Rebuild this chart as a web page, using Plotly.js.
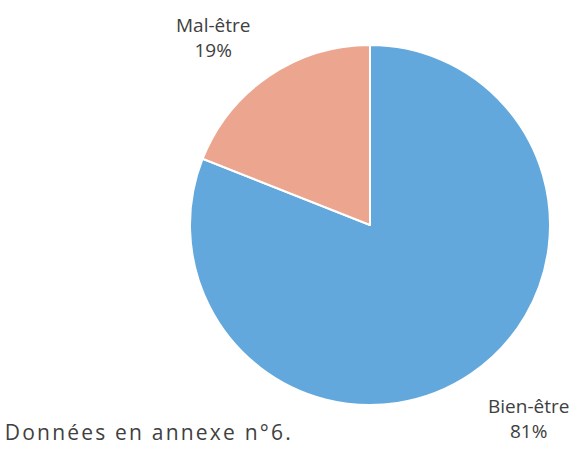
<!DOCTYPE html>
<html>
<head>
<meta charset="utf-8">
<script src="https://cdn.plot.ly/plotly-3.0.1.min.js"></script>
<style>
  body { margin: 0; background: #fff; }
  #pieChart { width: 575px; height: 450px; }
  .annotation[data-index="2"] text { letter-spacing: 2.2px; }
</style>
</head>
<body>
<div id="pieChart"></div>
<script>
var labels = ["Bien-être", "Mal-être"];
var values = [81, 19];
var colors = ["#62a8dc", "#eca68f"];
var note = "Données en annexe n°6.";

var trace1 = {
  type: "pie",
  labels: labels,
  values: values,
  sort: false,
  direction: "clockwise",
  rotation: 0,
  textinfo: "none",
  hoverinfo: "label+percent",
  marker: { colors: colors, line: { color: "#ffffff", width: 2 } },
  domain: { x: [190 / 575, 550 / 575], y: [0.1, 0.9] },
};

var total = values.reduce(function (a, b) { return a + b; }, 0);
function pct(i) { return Math.round(values[i] / total * 100) + "%"; }

// label positions
var labelPos = [
  { x: 528 / 575, y: 1 - 418 / 450 },
  { x: 213 / 575, y: 1 - 38 / 450 },
];

var annotations = labels.map(function (l, i) {
  return {
    text: l + "<br>" + pct(i),
    x: labelPos[i].x,
    y: labelPos[i].y,
    xref: "paper",
    yref: "paper",
    xanchor: "center",
    yanchor: "middle",
    showarrow: false,
    font: { family: "Open Sans", size: 19, color: "#404040" },
  };
});

// centred so the extra letter spacing spreads evenly
annotations.push({
  text: note,
  x: 149 / 575,
  y: 1 - 432 / 450,
  xref: "paper",
  yref: "paper",
  xanchor: "center",
  yanchor: "middle",
  showarrow: false,
  font: { family: "Open Sans", size: 21, color: "#404040" },
});

var layout = {
  width: 575,
  height: 450,
  margin: { l: 0, r: 0, t: 0, b: 0 },
  showlegend: false,
  paper_bgcolor: "#ffffff",
  annotations: annotations,
};

Plotly.newPlot("pieChart", [trace1], layout, { displayModeBar: false });
</script>
</body>
</html>
